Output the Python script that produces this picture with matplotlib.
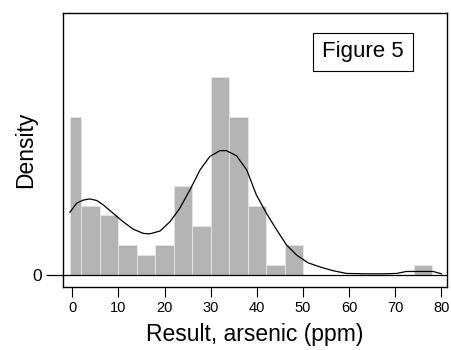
import matplotlib
matplotlib.use("Agg")
from matplotlib import pyplot as plt

plt.rcParams["font.family"] = ["Liberation Sans", "DejaVu Sans"]

# histogram bins (ppm) and density heights
bin_edges = [-0.4, 2, 6, 10, 14, 18, 22, 26, 30, 34, 38, 42, 46, 50]
bin_density = [0.0404, 0.0177, 0.0152, 0.0076, 0.0051, 0.0076, 0.0227,
               0.0126, 0.0505, 0.0404, 0.0177, 0.0025, 0.0076]
# lone bar out at the tail
tail_edges = [74, 78]
tail_density = [0.0025]

# kernel density curve, read point by point
kde_x = [-0.5, 0.95, 2.4, 3.8, 5.3, 6.7, 8.9, 11.0, 13.2, 15.4, 16.8, 19.0,
         21.2, 23.3, 25.5, 27.7, 29.8, 32.0, 33.4, 35.6, 37.8, 39.9, 42.1,
         44.3, 46.4, 48.6, 51.1, 53.6, 56.5, 59.4, 63.8, 67.4, 70.3, 72.4,
         75.3, 78.2, 80]
kde_y = [0.0160, 0.0183, 0.0191, 0.0194, 0.0190, 0.0179, 0.0157, 0.0136,
         0.0117, 0.0106, 0.0105, 0.0112, 0.0136, 0.0170, 0.0217, 0.0268,
         0.0302, 0.0317, 0.0317, 0.0304, 0.0268, 0.0204, 0.0157, 0.0115,
         0.0077, 0.0051, 0.0031, 0.0021, 0.0011, 0.0004, 0.0003, 0.0003,
         0.0004, 0.0009, 0.0009, 0.0009, 0.0003]

xticks = [0, 10, 20, 30, 40, 50, 60, 70, 80]

fig = plt.figure(figsize=(4.51, 3.50), dpi=100)
ax = fig.add_axes([63 / 451, 63 / 350, 384 / 451, 274 / 350])

widths = [bin_edges[i + 1] - bin_edges[i] for i in range(len(bin_density))]
ax.bar(bin_edges[:-1], bin_density, width=widths, align="edge",
       color="#b4b4b4", edgecolor="#e6e6e6", linewidth=0.6)
ax.bar(tail_edges[0], tail_density[0], width=tail_edges[1] - tail_edges[0],
       align="edge", color="#b4b4b4", edgecolor="#e6e6e6", linewidth=0.6)

ax.plot(kde_x, kde_y, color="black", linewidth=0.9)
ax.axhline(0, color="black", linewidth=0.9)

ax.set_xlim(-2.0, 81.2)
ax.set_ylim(-0.00306, 0.0668)

ax.set_xticks(xticks)
ax.set_xticklabels([str(t) for t in xticks], fontsize=10.5)
ax.set_yticks([0])
ax.set_yticklabels(["0"], fontsize=12.5)
ax.tick_params(axis="x", length=7, width=0.8, pad=3)
ax.tick_params(axis="y", length=12, width=0.9, pad=3)

for sp in ax.spines.values():
    sp.set_linewidth(1.0)

ax.set_xlabel("Result, arsenic (ppm)", fontsize=16.5, labelpad=6)
ax.set_ylabel("Density", fontsize=16.5, labelpad=-3)

ax.text(0.781, 0.858, "Figure 5", transform=ax.transAxes, fontsize=16,
        ha="center", va="center",
        bbox=dict(boxstyle="square,pad=0.4", facecolor="white",
                  edgecolor="black", linewidth=0.8))

fig.savefig("out.png", dpi=100)
